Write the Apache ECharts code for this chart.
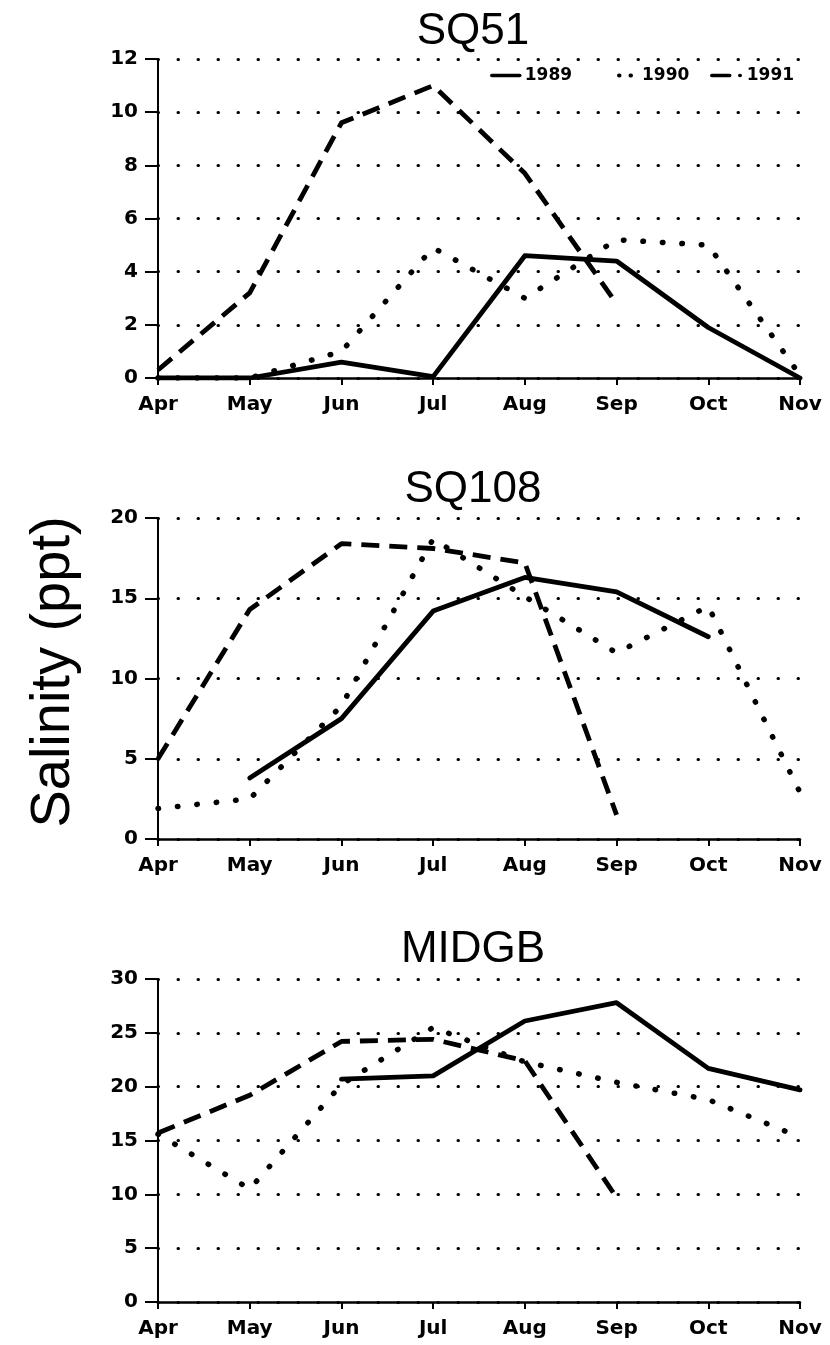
<!DOCTYPE html>
<html>
<head>
<meta charset="utf-8">
<script src="https://cdn.jsdelivr.net/npm/echarts@6/dist/echarts.min.js"></script>
<style>
html,body{margin:0;padding:0;background:#fff;}
#chart{width:830px;height:1345px;}
</style>
</head>
<body>
<div id="chart"></div>
<script>
// ---- data ----
var months = ['Apr', 'May', 'Jun', 'Jul', 'Aug', 'Sep', 'Oct', 'Nov'];
var years = ['1989', '1990', '1991'];
var panelTitles = ['SQ51', 'SQ108', 'MIDGB'];
var yLabel = 'Salinity (ppt)';

var sq51_1989 = [0, 0, 0.6, 0.05, 4.6, 4.4, 1.9, 0];
var sq51_1990 = [0, 0, 1.0, 4.9, 3.0, 5.2, 5.0, 0.1];
var sq51_1991 = [0.3, 3.2, 9.6, 11.0, 7.7, 2.8, null, null];

var sq108_1989 = [null, 3.8, 7.5, 14.2, 16.3, 15.4, 12.6, null];
var sq108_1990 = [1.9, 2.5, 8.3, 18.7, 15.1, 11.6, 14.5, 2.9];
var sq108_1991 = [5.0, 14.3, 18.4, 18.1, 17.2, 1.5, null, null];

var midgb_1989 = [null, null, 20.7, 21.0, 26.1, 27.8, 21.7, 19.7];
var midgb_1990 = [15.6, 10.5, 20.2, 25.5, 22.3, 20.4, 18.8, 15.3];
var midgb_1991 = [15.7, 19.2, 24.2, 24.4, 22.4, 9.7, null, null];

var yMax = [12, 20, 30];
var yInterval = [2, 5, 5];

// ---- layout / style ----
var panels = [
  [sq51_1989, sq51_1990, sq51_1991],
  [sq108_1989, sq108_1990, sq108_1991],
  [midgb_1989, midgb_1990, midgb_1991]
];
var gridTops = [59, 518, 979];
var gridHeights = [319, 321, 323];
var titleTops = [5, 463, 923];
var plotLeft = 158, plotRight = 30;
var titleCenter = 468;

var lineStyles = [
  {color: '#000', width: 4.8, type: 'solid', cap: 'round', join: 'round'},
  {color: '#000', width: 5.5, type: [0.5, 19], cap: 'round', join: 'round'},
  {color: '#000', width: 4.8, type: [18, 10], cap: 'butt', join: 'round'}
];

var tickFont = {fontFamily: 'DejaVu Sans', fontWeight: 'bold', fontSize: 20, color: '#000'};

var grids = [], xAxes = [], yAxes = [], series = [], titles = [];
for (var p = 0; p < 3; p++) {
  grids.push({left: plotLeft, right: plotRight, top: gridTops[p], height: gridHeights[p], containLabel: false});
  titles.push({
    text: panelTitles[p], left: titleCenter, top: titleTops[p], textAlign: 'center',
    textStyle: {fontFamily: 'Liberation Sans', fontWeight: 'normal', fontSize: 44, color: '#000'}
  });
  xAxes.push({
    type: 'category', gridIndex: p, data: months, boundaryGap: false,
    axisLine: {onZero: false, lineStyle: {color: '#000', width: 2.5}},
    axisTick: {show: true, length: 7, lineStyle: {color: '#000', width: 2}},
    axisLabel: Object.assign({margin: 17, interval: 0}, tickFont),
    splitLine: {show: false}
  });
  yAxes.push({
    type: 'value', gridIndex: p, min: 0, max: yMax[p], interval: yInterval[p],
    axisLine: {show: true, lineStyle: {color: '#000', width: 2}},
    axisTick: {show: true, length: 13, lineStyle: {color: '#000', width: 2}},
    axisLabel: Object.assign({margin: 20}, tickFont),
    splitLine: {show: true, lineStyle: {color: '#000', width: 3, type: [0.5, 19.5], cap: 'round'}}
  });
  for (var s = 0; s < 3; s++) {
    series.push({
      name: years[s], type: 'line', xAxisIndex: p, yAxisIndex: p,
      data: panels[p][s], showSymbol: false, symbol: 'none', connectNulls: false,
      lineStyle: lineStyles[s], itemStyle: {color: '#000'}, animation: false, silent: true, z: 3
    });
  }
}

var legendText = {fontFamily: 'DejaVu Sans', fontWeight: 'bold', fontSize: 17, color: '#000'};
var legends = [
  {data: [years[0]], left: 485, itemWidth: 28,
   lineStyle: {type: 'solid', width: 3.5, color: '#000'}},
  {data: [years[1]], left: 612, itemWidth: 18,
   lineStyle: {type: [0.5, 11], width: 4, cap: 'round', color: '#000'}},
  {data: [years[2]], left: 705, itemWidth: 30,
   lineStyle: {type: [18, 10, 0.5, 10], width: 3.5, cap: 'round', color: '#000'}}
].map(function (l) {
  return Object.assign({
    top: 62, itemHeight: 14, textStyle: legendText, selectedMode: false, itemGap: 5,
    itemStyle: {opacity: 0}
  }, l);
});

var chart = echarts.init(document.getElementById('chart'), null, {renderer: 'canvas'});
chart.setOption({
  backgroundColor: '#fff',
  animation: false,
  title: titles,
  legend: legends,
  grid: grids,
  xAxis: xAxes,
  yAxis: yAxes,
  series: series,
  graphic: [{
    type: 'text', x: 54, y: 672, rotation: Math.PI / 2,
    style: {text: yLabel, font: 'normal 56px "Liberation Sans"', fill: '#000', textAlign: 'center', textVerticalAlign: 'middle'}
  }]
});
</script>
</body>
</html>
